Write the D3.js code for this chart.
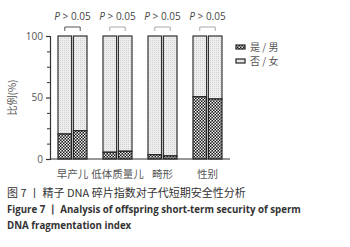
<!DOCTYPE html>
<html>
<head>
<meta charset="utf-8">
<script src="https://cdn.jsdelivr.net/npm/d3@7/dist/d3.min.js"></script>
<style>
  body { margin: 0; background: #fff; }
  svg { display: block; }
</style>
</head>
<body>
<div id="chart"></div>
<script>
// values (percent of "是 / 男")
const groups = ['早产儿', '低体质量儿', '畸形', '性别'];
const barA = [20.3, 5.5, 3.5, 50.6];
const barB = [23.0, 6.3, 2.5, 48.8];
const pLabels = ['P > 0.05', 'P > 0.05', 'P > 0.05', 'P > 0.05'];
const legendLabels = ['是 / 男', '否 / 女'];
const yTicks = [0, 50, 100];

const width = 350, height = 247;
const cjk = '"Noto Sans CJK SC", sans-serif';

const svg = d3.select('#chart').append('svg')
    .attr('width', width)
    .attr('height', height);

const defs = svg.append('defs');
const dark = defs.append('pattern')
    .attr('id', 'dark').attr('patternUnits', 'userSpaceOnUse')
    .attr('width', 3).attr('height', 3);
dark.append('rect').attr('width', 3).attr('height', 3).attr('fill', '#1a1a1a');
dark.append('rect').attr('x', 0).attr('y', 0).attr('width', 1.5).attr('height', 1.5).attr('fill', '#f2f2f2');
dark.append('rect').attr('x', 1.5).attr('y', 1.5).attr('width', 1.5).attr('height', 1.5).attr('fill', '#f2f2f2');

const light = defs.append('pattern')
    .attr('id', 'light').attr('patternUnits', 'userSpaceOnUse')
    .attr('width', 2).attr('height', 2);
light.append('rect').attr('width', 2).attr('height', 2).attr('fill', '#eeeeee');
light.append('rect').attr('width', 1).attr('height', 1).attr('fill', '#d2d2d2');

const x = d3.scalePoint()
    .domain(groups)
    .range([50, 230])
    .padding(0.5);

const inner = d3.scaleBand()
    .domain([0, 1])
    .range([-14.5, 14.5])
    .paddingInner(0.12);

const y = d3.scaleLinear()
    .domain([0, 100])
    .range([159, 36]);

// bars
groups.forEach((g, i) => {
    [barA[i], barB[i]].forEach((v, j) => {
        const bx = x(g) + inner(j);
        svg.append('rect')
            .attr('x', bx).attr('y', y(100))
            .attr('width', inner.bandwidth())
            .attr('height', y(v) - y(100))
            .attr('fill', 'url(#light)')
            .attr('stroke', '#333').attr('stroke-width', 1.2);
        svg.append('rect')
            .attr('x', bx).attr('y', y(v))
            .attr('width', inner.bandwidth())
            .attr('height', y(0) - y(v))
            .attr('fill', 'url(#dark)')
            .attr('stroke', '#222').attr('stroke-width', 1.2);
    });
});

// y axis
const yAxis = svg.append('g')
    .attr('transform', 'translate(50,0)')
    .call(d3.axisLeft(y).tickValues(yTicks).tickSize(4).tickPadding(3));
yAxis.select('.domain').attr('stroke', '#333').attr('stroke-width', 1.2);
yAxis.selectAll('.tick line').attr('stroke', '#333').attr('stroke-width', 1.2);
yAxis.selectAll('text')
    .style('font-family', '"Open Sans", sans-serif')
    .style('font-size', '10px')
    .attr('fill', '#555');

svg.append('g')
    .attr('transform', 'translate(50,0)')
    .call(d3.axisLeft(y).tickValues(d3.range(0, 100.1, 12.5).filter(d => d % 50 !== 0)).tickSize(3).tickFormat(''))
    .call(g => g.select('.domain').remove())
    .selectAll('.tick line').attr('stroke', '#333').attr('stroke-width', 1);

// x axis line
svg.append('line')
    .attr('x1', 50).attr('x2', 230)
    .attr('y1', y(0)).attr('y2', y(0))
    .attr('stroke', '#333').attr('stroke-width', 1.2);

// x labels
svg.selectAll('.xlab')
    .data(groups)
    .enter().append('text')
    .attr('x', d => x(d))
    .attr('y', 178)
    .attr('text-anchor', 'middle')
    .style('font-family', cjk)
    .style('font-size', '10.5px')
    .attr('fill', '#555')
    .text(d => d);

// y label
svg.append('text')
    .attr('transform', `translate(16,${y(50)}) rotate(-90)`)
    .attr('text-anchor', 'middle')
    .style('font-family', cjk)
    .style('font-size', '10px')
    .attr('fill', '#555')
    .text('比例(%)');

// p labels and brackets
groups.forEach((g, i) => {
    const t = svg.append('text')
        .attr('x', x(g)).attr('y', 20)
        .attr('text-anchor', 'middle')
        .style('font-family', '"Open Sans", sans-serif')
        .style('font-size', '10px')
        .attr('fill', '#444');
    t.append('tspan').style('font-style', 'italic').text(pLabels[i].slice(0, 1));
    t.append('tspan').text(pLabels[i].slice(1));
    const bl = x(g) + inner(0) + inner.bandwidth() / 2;
    const br = x(g) + inner(1) + inner.bandwidth() / 2;
    svg.append('path')
        .attr('d', `M${bl},31V27H${br}V31`)
        .attr('fill', 'none')
        .attr('stroke', i === 0 ? '#555' : '#aaa')
        .attr('stroke-width', 1);
});

// legend
legendLabels.forEach((lab, i) => {
    svg.append('rect')
        .attr('x', 236).attr('y', 45 + i * 14)
        .attr('width', 9).attr('height', 4)
        .attr('fill', i === 0 ? 'url(#dark)' : 'url(#light)')
        .attr('stroke', '#222').attr('stroke-width', 1.2);
    svg.append('text')
        .attr('x', 250).attr('y', 51 + i * 14)
        .style('font-family', cjk)
        .style('font-size', '10px')
        .attr('fill', '#555')
        .text(lab);
});

// caption
svg.append('text')
    .attr('x', 7).attr('y', 197)
    .style('font-family', cjk)
    .style('font-size', '11px')
    .attr('fill', '#333')
    .text('图 7 丨 精子 DNA 碎片指数对子代短期安全性分析');
svg.append('text')
    .attr('x', 7).attr('y', 213)
    .style('font-family', '"Open Sans", sans-serif')
    .style('font-weight', 'bold')
    .style('font-size', '9.7px')
    .attr('fill', '#333')
    .text('Figure 7  丨  Analysis of offspring short-term security of sperm');
svg.append('text')
    .attr('x', 7).attr('y', 229)
    .style('font-family', '"Open Sans", sans-serif')
    .style('font-weight', 'bold')
    .style('font-size', '9.7px')
    .attr('fill', '#333')
    .text('DNA fragmentation index');
</script>
</body>
</html>
